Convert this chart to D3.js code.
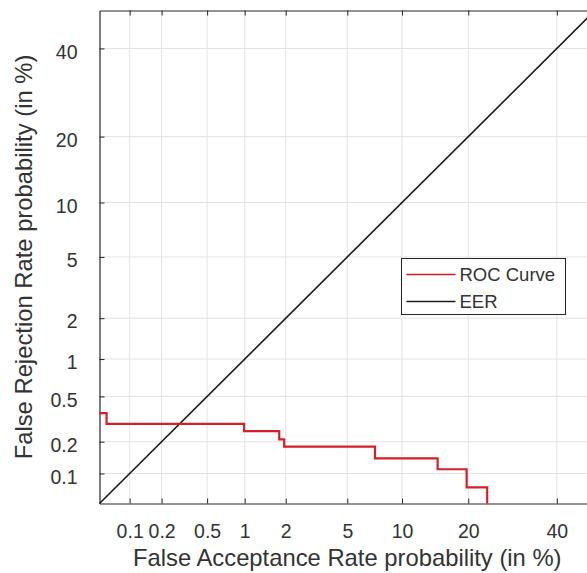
<!DOCTYPE html>
<html>
<head>
<meta charset="utf-8">
<script src="https://cdn.jsdelivr.net/npm/d3@7"></script>
<style>
  body { margin: 0; background: #fff; }
  svg { display: block; overflow: hidden; }
  text { font-family: "Liberation Sans", Arial, sans-serif; fill: #333; }
</style>
</head>
<body>
<div id="chart"></div>
<script>
// values in percent
var tickValues = [0.1, 0.2, 0.5, 1, 2, 5, 10, 20, 40];
var tickLabels = ["0.1", "0.2", "0.5", "1", "2", "5", "10", "20", "40"];
var axisMin = 0.05, axisMax = 50;

// ROC (DET) staircase
var rocFar = [0.05, 0.059, 0.99, 1.8, 1.95, 7.2, 14.8, 19.7, 23.7];
var rocFrr = [0.36, 0.29, 0.25, 0.21, 0.18, 0.14, 0.11, 0.073, 0.05];

// EER diagonal
var eerVals = [0.05, 50];

// inverse normal cdf (Acklam)
function probit(p) {
  var a = [-3.969683028665376e+01, 2.209460984245205e+02, -2.759285104469687e+02, 1.383577518672690e+02, -3.066479806614716e+01, 2.506628277459239e+00];
  var b = [-5.447609879822406e+01, 1.615858368580409e+02, -1.556989798598866e+02, 6.680131188771972e+01, -1.328068155288572e+01];
  var c = [-7.784894002430293e-03, -3.223964580411365e-01, -2.400758277161838e+00, -2.549732539343734e+00, 4.374664141464968e+00, 2.938163982698783e+00];
  var d = [7.784695709041462e-03, 3.224671290700398e-01, 2.445134137142996e+00, 3.754408661907416e+00];
  var pl = 0.02425, q, r;
  if (p < pl) {
    q = Math.sqrt(-2 * Math.log(p));
    return (((((c[0]*q+c[1])*q+c[2])*q+c[3])*q+c[4])*q+c[5]) / ((((d[0]*q+d[1])*q+d[2])*q+d[3])*q+1);
  } else if (p <= 1 - pl) {
    q = p - 0.5; r = q * q;
    return (((((a[0]*r+a[1])*r+a[2])*r+a[3])*r+a[4])*r+a[5])*q / (((((b[0]*r+b[1])*r+b[2])*r+b[3])*r+b[4])*r+1);
  } else {
    q = Math.sqrt(-2 * Math.log(1 - p));
    return -(((((c[0]*q+c[1])*q+c[2])*q+c[3])*q+c[4])*q+c[5]) / ((((d[0]*q+d[1])*q+d[2])*q+d[3])*q+1);
  }
}
function pr(v) { return probit(v / 100); }

var W = 587, H = 573;
var margin = {left: 99.5, top: 10.5, right: -8, bottom: 69.5};
var width = W - margin.left - margin.right;
var height = H - margin.top - margin.bottom;

var svg = d3.select("#chart").append("svg")
  .attr("width", W)
  .attr("height", H);

var g = svg.append("g")
  .attr("transform", "translate(" + margin.left + "," + margin.top + ")");

var x = d3.scaleLinear().domain([pr(axisMin), pr(axisMax)]).range([0, width]);
var y = d3.scaleLinear().domain([pr(axisMin), pr(axisMax)]).range([height, 0]);

var tickP = tickValues.map(pr);

// grid
g.append("g").selectAll("line.gx")
  .data(tickP).enter().append("line")
  .attr("x1", function(d) { return x(d); })
  .attr("x2", function(d) { return x(d); })
  .attr("y1", 0).attr("y2", height)
  .attr("stroke", "#e3e3e3").attr("stroke-width", 1);
g.append("g").selectAll("line.gy")
  .data(tickP).enter().append("line")
  .attr("y1", function(d) { return y(d); })
  .attr("y2", function(d) { return y(d); })
  .attr("x1", 0).attr("x2", width)
  .attr("stroke", "#e3e3e3").attr("stroke-width", 1);

// axes (MATLAB style, ticks pointing inward)
var fmt = function(d, i) { return tickLabels[i]; };

var xAxis = g.append("g")
  .attr("transform", "translate(0," + height + ")")
  .call(d3.axisBottom(x).tickValues(tickP).tickFormat(fmt).tickSizeInner(-5).tickSizeOuter(0).tickPadding(21));
var xTop = g.append("g")
  .call(d3.axisTop(x).tickValues(tickP).tickFormat("").tickSizeInner(-5).tickSizeOuter(0));
var yAxis = g.append("g")
  .call(d3.axisLeft(y).tickValues(tickP).tickFormat(fmt).tickSizeInner(-5).tickSizeOuter(0).tickPadding(22));

[xAxis, xTop, yAxis].forEach(function(a) {
  a.select(".domain").attr("stroke", "#262626").attr("stroke-width", 1.2);
  a.selectAll(".tick line").attr("stroke", "#262626");
  a.selectAll(".tick text").attr("font-size", "19.5px").attr("fill", "#3a3a3a")
    .attr("font-family", "Liberation Sans, Arial, sans-serif");
});
yAxis.selectAll(".tick text").attr("dy", "0.5em");

// EER line
var line = d3.line()
  .x(function(d) { return x(pr(d[0])); })
  .y(function(d) { return y(pr(d[1])); });

g.append("path")
  .datum(eerVals.map(function(v) { return [v, v]; }))
  .attr("fill", "none")
  .attr("stroke", "#1a1a1a")
  .attr("stroke-width", 1.6)
  .attr("d", line);

// ROC step curve
var rocData = rocFar.map(function(v, i) { return [v, rocFrr[i]]; });
g.append("path")
  .datum(rocData)
  .attr("fill", "none")
  .attr("stroke", "#d41f26")
  .attr("stroke-width", 2.2)
  .attr("d", line.curve(d3.curveStepAfter));

// axis labels
svg.append("text")
  .attr("x", margin.left + (595 - margin.left) / 2)
  .attr("y", 566)
  .attr("text-anchor", "middle")
  .attr("font-size", "23.8px")
  .attr("fill", "#3a3a3a")
  .text("False Acceptance Rate probability (in %)");

svg.append("text")
  .attr("transform", "translate(32," + (margin.top + height / 2) + ") rotate(-90)")
  .attr("text-anchor", "middle")
  .attr("font-size", "23.8px")
  .attr("fill", "#3a3a3a")
  .text("False Rejection Rate probability (in %)");

// legend
var legend = svg.append("g").attr("transform", "translate(401.5,258.5)");
legend.append("rect")
  .attr("width", 164).attr("height", 56)
  .attr("fill", "#fff").attr("stroke", "#262626").attr("stroke-width", 1);
var legItems = [{name: "ROC Curve", color: "#d41f26"}, {name: "EER", color: "#1a1a1a"}];
legItems.forEach(function(it, i) {
  var yy = 16 + i * 27;
  legend.append("line")
    .attr("x1", 5).attr("x2", 54).attr("y1", yy).attr("y2", yy)
    .attr("stroke", it.color).attr("stroke-width", 1.5);
  legend.append("text")
    .attr("x", 58).attr("y", yy + 6.5)
    .attr("font-size", "18.5px")
    .attr("fill", "#3a3a3a")
    .text(it.name);
});
</script>
</body>
</html>
